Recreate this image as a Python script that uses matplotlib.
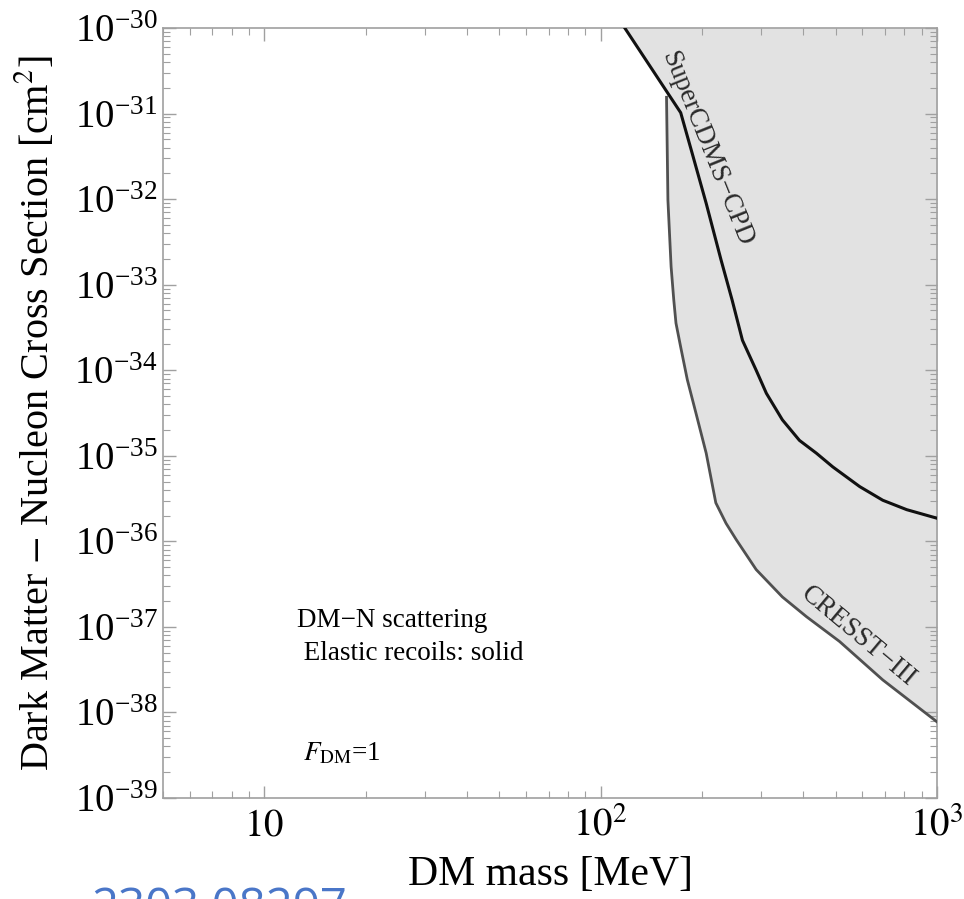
import matplotlib
matplotlib.use("Agg")
import matplotlib.pyplot as plt
import numpy as np
from matplotlib.ticker import LogLocator, NullFormatter

plt.rcParams['font.family'] = ['Liberation Serif', 'DejaVu Serif']
plt.rcParams['mathtext.fontset'] = 'stix'

# SuperCDMS-CPD limit (mass in MeV, log10 of cross section in cm^2)
cdms_mass = [118, 173, 187, 206, 228, 246, 264, 290, 311, 347, 390,
             438, 490, 589, 690, 813, 1000]
cdms_logsig = [-30.0, -30.99, -31.46, -32.05, -32.71, -33.18, -33.65, -34.00, -34.27,
               -34.58, -34.82, -34.97, -35.13, -35.36, -35.52, -35.63, -35.73]

# CRESST-III limit
cresst_mass = [157, 158.5, 162, 165, 167.5, 173, 181, 192, 206, 220, 236, 253, 290,
               347, 409, 513, 690, 1000]
cresst_logsig = [-30.81, -32.01, -32.79, -33.18, -33.45, -33.73, -34.11, -34.50, -34.97,
                 -35.55, -35.79, -35.98, -36.33, -36.65, -36.88, -37.17, -37.62, -38.11]

xticks = [10, 100, 1000]
xticklabels = [r'$10$', r'$10^2$', r'$10^3$']

cdms_sig = 10.0 ** np.array(cdms_logsig)
cresst_sig = 10.0 ** np.array(cresst_logsig)

fig = plt.figure(figsize=(9.64, 8.99), dpi=100)
ax = fig.add_axes([163/964, 1 - 798/899, (937-163)/964, (798-28)/899])
ax.set_xscale('log')
ax.set_yscale('log')
ax.set_xlim(5, 1000)
ax.set_ylim(1e-39, 1e-30)

shade = '#e2e2e2'
ax.fill_between(cdms_mass, cdms_sig, 1e-30, color=shade, lw=0, zorder=1)
ax.fill_between(cresst_mass, cresst_sig, 1e-30, color=shade, lw=0, zorder=1)
ax.plot(cresst_mass, cresst_sig, color='#505050', lw=2.0, zorder=3)
ax.plot(cdms_mass, cdms_sig, color='#111111', lw=2.2, zorder=3)

# frame and ticks
for sp in ax.spines.values():
    sp.set_color('#a0a0a0')
    sp.set_linewidth(1.2)
ax.tick_params(which='both', direction='in', top=True, right=True, color='#a0a0a0')
ax.tick_params(which='major', length=9, width=1.0, labelsize=28)
ax.tick_params(which='minor', length=5, width=0.8)
ax.tick_params(axis='y', pad=4)
ax.tick_params(axis='x', pad=7)
ax.yaxis.set_major_locator(LogLocator(base=10, numticks=20))
ax.yaxis.set_minor_locator(LogLocator(base=10, subs=np.arange(2, 10), numticks=20))
ax.yaxis.set_minor_formatter(NullFormatter())
ax.set_xticks(xticks, xticklabels)
ax.xaxis.set_minor_locator(LogLocator(base=10, subs=np.arange(2, 10), numticks=20))
ax.xaxis.set_minor_formatter(NullFormatter())

ax.set_xlabel('DM mass [MeV]', fontsize=30, labelpad=8)
ax.set_ylabel(r'Dark Matter $-$ Nucleon Cross Section [cm$^2$]', fontsize=29, labelpad=12)

# annotations
ax.text(0.173, 0.222, 'DM\u2212N scattering', transform=ax.transAxes, fontsize=19.5,
        ha='left', va='baseline')
ax.text(0.173, 0.179, ' Elastic recoils: solid', transform=ax.transAxes, fontsize=19.5,
        ha='left', va='baseline')
ax.text(0.181, 0.049, r'$F_{\rm DM}$=1', transform=ax.transAxes, fontsize=19.5,
        ha='left', va='baseline')
ax.text(0.703, 0.843, 'SuperCDMS\u2212CPD', transform=ax.transAxes, fontsize=19.5,
        ha='center', va='center', rotation=-68, color='#2a2a2a')
ax.text(0.898, 0.209, 'CRESST\u2212III', transform=ax.transAxes, fontsize=19.5,
        ha='center', va='center', rotation=-40, color='#2a2a2a')

fig.text(92/964, 1 - 885/899, '2303.08297', fontsize=34, color='#4a76c8',
         family='Open Sans', ha='left', va='top')

fig.savefig('out.png', dpi=100)
